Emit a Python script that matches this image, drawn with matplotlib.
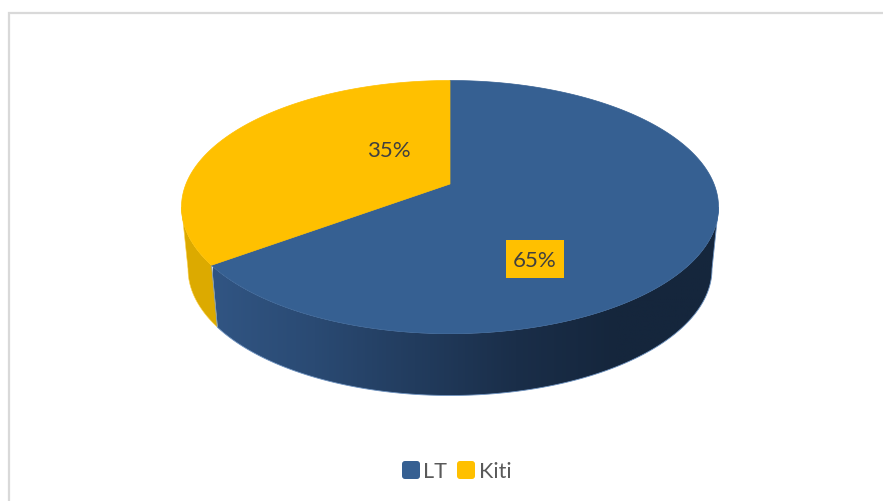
import numpy as np
import matplotlib
matplotlib.use('Agg')
import matplotlib.pyplot as plt
from matplotlib.colors import LinearSegmentedColormap
from matplotlib.patches import FancyBboxPatch, Polygon, Rectangle

categories = ['LT', 'Kiti']
values = [65, 35]
labels = ['65%', '35%']
colors = ['#366092', '#ffc000']
side_yellow = '#dcaa00'
side_stops = ['#315583', '#2a4a73', '#223c5e', '#1a2e49', '#15263c', '#15263c']

# the 3d view pushes the split a bit round the rim
VIEW_SHIFT = 8.6


def rim(theta, cx, cy, rx, ry):
    """ Points on an ellipse, theta in degrees clockwise from the top. """
    t = np.radians(theta)
    return np.column_stack([cx + rx * np.sin(t), cy - ry * np.cos(t)])


top = dict(cx=450, cy=208, rx=268.5, ry=126.5)
low = dict(cx=450, cy=270, rx=262, ry=126.5)
apex = np.array([[450, 185]])

fig = plt.figure(figsize=(8.83, 5.02), dpi=100)
ax = fig.add_axes([0, 0, 1, 1])

split = 360 * values[0] / sum(values) + VIEW_SHIFT

# side walls, blue one carries the horizontal gradient
wall_t = np.linspace(90, split, 200)
wall = np.vstack([rim(wall_t, **top), rim(wall_t[::-1], **low)])
cmap = LinearSegmentedColormap.from_list('wall', side_stops)
img = ax.imshow(np.linspace(0, 1, 256)[None, :], cmap=cmap, aspect='auto',
                extent=[213, 718, 400, 200], zorder=1)
patch = Polygon(wall, closed=True, fc='none', ec='#6f93c0', lw=0.6, zorder=2)
ax.add_patch(patch)
img.set_clip_path(patch)

yellow_t = np.linspace(split, 270, 60)
ax.add_patch(Polygon(np.vstack([rim(yellow_t, **top), rim(yellow_t[::-1], **low)]),
                     closed=True, fc=side_yellow, ec='#ffd34d', lw=0.4, zorder=1))

# top face
blue_t = np.linspace(0, split, 400)
yel_t = np.linspace(split, 360, 300)
ax.add_patch(Polygon(np.vstack([apex, rim(blue_t, **top)]), closed=True,
                     fc=colors[0], ec=colors[0], lw=0.5, zorder=3))
ax.add_patch(Polygon(np.vstack([apex, rim(yel_t, **top)]), closed=True,
                     fc=colors[1], ec=colors[1], lw=0.5, zorder=3))

font = dict(family='Lato', fontsize=16, color='#404040', ha='center', va='center', zorder=5)
ax.add_patch(Rectangle((506, 241), 58, 38, fc=colors[1], ec='none', zorder=4))
ax.text(535, 261, labels[0], **font)
ax.text(389, 151, labels[1], **font)

# frame only shows on top and left
ax.plot([9, 9, 883], [502, 14, 14], color='#d9d9d9', lw=1.6, solid_joinstyle='miter')

# legend
for name, color, x0, xt in zip(categories, colors, [402, 457], [423, 479]):
    ax.add_patch(FancyBboxPatch((x0 + 2, 464), 14, 14, boxstyle='round,pad=2,rounding_size=3',
                                fc=color, ec='none'))
    ax.text(xt, 472, name, family='Lato', fontsize=15.5, color='#595959', ha='left', va='center')

ax.set_xlim(0, 883)
ax.set_ylim(502, 0)
ax.axis('off')
fig.savefig('out.png', dpi=100)
